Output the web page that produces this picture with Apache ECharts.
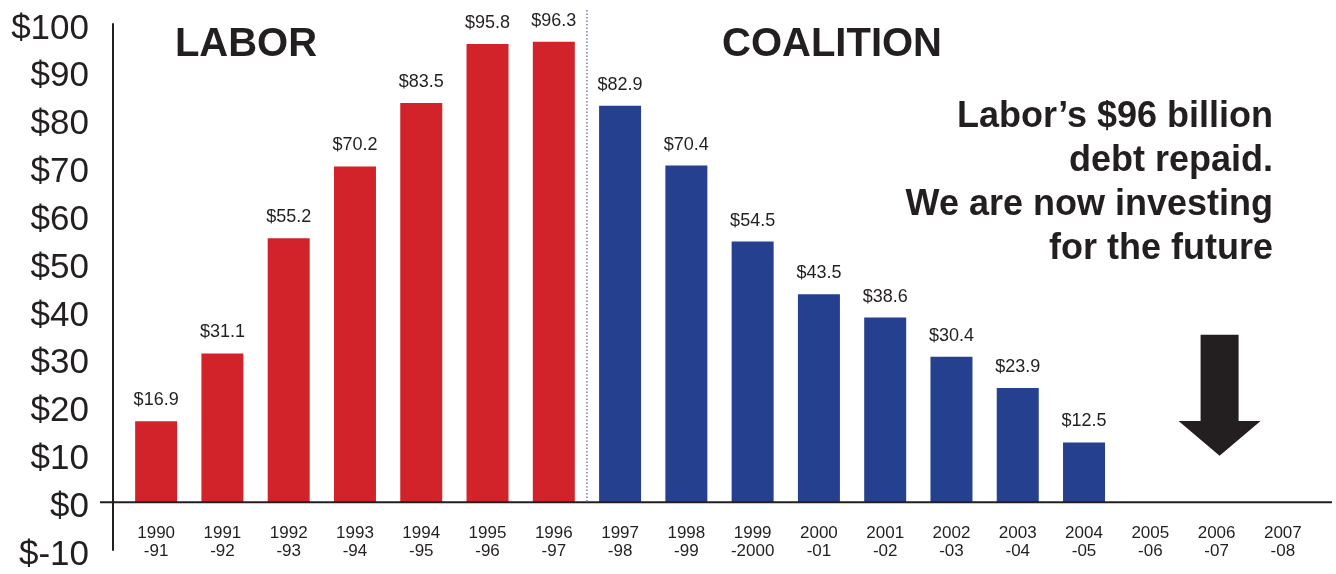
<!DOCTYPE html>
<html>
<head>
<meta charset="utf-8">
<script src="https://cdn.jsdelivr.net/npm/echarts@6/dist/echarts.min.js"></script>
<style>
html,body{margin:0;padding:0;background:#fff;}
#chart{width:1336px;height:574px;}
</style>
</head>
<body>
<div id="chart"></div>
<script>
const categories = ['1990\n-91','1991\n-92','1992\n-93','1993\n-94','1994\n-95','1995\n-96','1996\n-97',
  '1997\n-98','1998\n-99','1999\n-2000','2000\n-01','2001\n-02','2002\n-03','2003\n-04','2004\n-05',
  '2005\n-06','2006\n-07','2007\n-08'];
const laborDebt = [16.9, 31.1, 55.2, 70.2, 83.5, 95.8, 96.3, null, null, null, null, null, null, null, null, null, null, null];
const coalitionDebt = [null, null, null, null, null, null, null, 82.9, 70.4, 54.5, 43.5, 38.6, 30.4, 23.9, 12.5, null, null, null];
const yTicks = {min: -10, max: 100, interval: 10};
const headings = ['LABOR', 'COALITION'];
const message = ['Labor\u2019s $96 billion', 'debt repaid.', 'We are now investing', 'for the future'];

const INK = '#231f20';
const RED = '#d2232a';
const BLUE = '#24408e';
const FONT = '"Liberation Sans", Arial, Helvetica, sans-serif';

const W = 1336, H = 574;
const GRID = {left: 123, right: 20, top: 24, bottom: 24};
const gridH = H - GRID.top - GRID.bottom;
// distance from grid bottom (y = min) up to the zero line, from the axis range
const zeroOffset = gridH * (0 - yTicks.min) / (yTicks.max - yTicks.min);

const chart = echarts.init(document.getElementById('chart'), null, {renderer: 'canvas'});

const labelCfg = {
  show: true, position: 'top', distance: 12,
  color: INK, fontSize: 18, fontFamily: FONT,
  formatter: p => '$' + p.value
};

chart.setOption({
  animation: false,
  backgroundColor: '#fff',
  grid: Object.assign({containLabel: false, outerBoundsMode: 'none'}, GRID),
  xAxis: {
    type: 'category', data: categories,
    offset: -zeroOffset,
    axisLine: {show: false, onZero: false},
    axisTick: {show: false},
    axisLabel: {color: INK, fontSize: 17, lineHeight: 18, fontFamily: FONT, margin: 22, interval: 0}
  },
  yAxis: {
    type: 'value', min: yTicks.min, max: yTicks.max, interval: yTicks.interval,
    offset: 10,
    axisLine: {show: true, lineStyle: {color: INK, width: 2}},
    axisTick: {show: false},
    splitLine: {show: false},
    axisLabel: {color: INK, fontSize: 35, fontFamily: FONT, margin: 24, verticalAlign: 'top', lineHeight: 10,
      formatter: v => '$' + v}
  },
  series: [
    {type: 'bar', name: 'Labor', data: laborDebt, barWidth: 42, barGap: '-100%',
     itemStyle: {color: RED}, label: labelCfg},
    {type: 'bar', name: 'Coalition', data: coalitionDebt, barWidth: 42,
     itemStyle: {color: BLUE}, label: labelCfg}
  ]
});

// Annotations positioned from the chart's own scales
const p0 = chart.convertToPixel({gridIndex: 0}, [0, 0]);
const pLast = chart.convertToPixel({gridIndex: 0}, [categories.length - 1, 0]);
const step = chart.convertToPixel({gridIndex: 0}, [1, 0])[0] - p0[0];
const zeroY = p0[1];
const sepX = (chart.convertToPixel({gridIndex: 0}, [6, 0])[0] + chart.convertToPixel({gridIndex: 0}, [7, 0])[0]) / 2;
const arrowX = chart.convertToPixel({gridIndex: 0}, [16, 0])[0] + 3;
const arrowTop = chart.convertToPixel({gridIndex: 0}, [16, 35])[1];
const arrowBase = chart.convertToPixel({gridIndex: 0}, [16, 17])[1];
const arrowTip = chart.convertToPixel({gridIndex: 0}, [16, 9.7])[1];
const yAxisX = p0[0] - step / 2 - 10;

chart.setOption({
  graphic: [
    {type: 'line', z: 10, shape: {x1: yAxisX - 13, y1: zeroY, x2: pLast[0] + step / 2 + 16, y2: zeroY},
     style: {stroke: INK, lineWidth: 2}},
    {type: 'line', z: 10, shape: {x1: sepX, y1: 10, x2: sepX, y2: zeroY},
     style: {stroke: '#6d7fbf', lineWidth: 1.5, lineDash: [1.5, 2]}},
    {type: 'polygon', z: 10, shape: {points: [
      [arrowX - 19, arrowTop], [arrowX + 19, arrowTop], [arrowX + 19, arrowBase],
      [arrowX + 41, arrowBase], [arrowX, arrowTip], [arrowX - 41, arrowBase], [arrowX - 19, arrowBase]
    ]}, style: {fill: INK}},
    {type: 'text', z: 10, x: 246, y: 45, style: {text: headings[0], fill: INK, font: 'bold 40px ' + FONT,
      textAlign: 'center', textVerticalAlign: 'middle'}},
    {type: 'text', z: 10, x: 832, y: 45, style: {text: headings[1], fill: INK, font: 'bold 40px ' + FONT,
      textAlign: 'center', textVerticalAlign: 'middle'}},
    {type: 'text', z: 10, x: 1273, y: 95, style: {text: message.join('\n'), fill: INK,
      font: 'bold 36px ' + FONT, lineHeight: 44, textAlign: 'right', textVerticalAlign: 'top'}}
  ]
});
</script>
</body>
</html>
